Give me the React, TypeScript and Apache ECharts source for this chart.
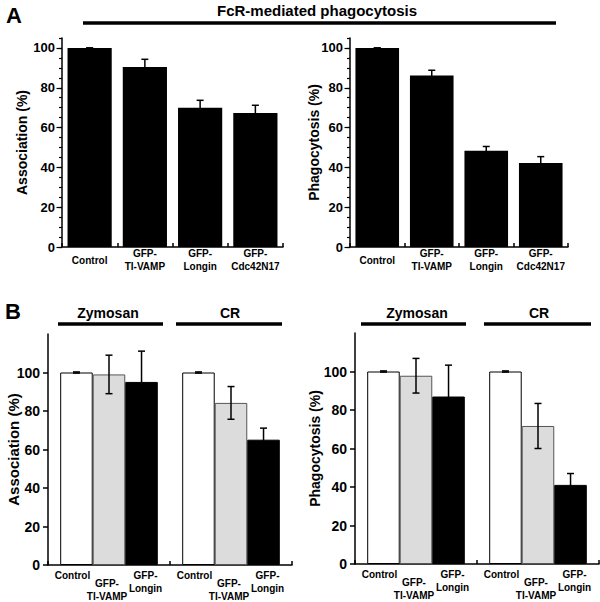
import React, { useEffect, useRef } from "react";
import * as echarts from "echarts";

const FONT = '"Liberation Sans", Arial, Helvetica, sans-serif';

// Panel A
const catsA = ["Control", "GFP-\nTI-VAMP", "GFP-\nLongin", "GFP-\nCdc42N17"];
const assocA = [100, 90.4, 70, 67.3];
const assocAErr = [0, 3.9, 3.7, 3.9];
const phagoA = [100, 86.1, 48.4, 42.2];
const phagoAErr = [0, 2.7, 2.1, 3.2];
const majorTicksA = [0, 20, 40, 60, 80, 100];

// Panel B
const groupsB = ["Zymosan", "CR"];
const seriesB = ["Control", "GFP-\nTI-VAMP", "GFP-\nLongin"];
const assocB = [
  [100, 100],
  [99, 84.2],
  [95.1, 65.1],
];
const assocBErr = [
  [0.3, 0.3],
  [10, 8.5],
  [16, 6],
];
const phagoB = [
  [100, 100],
  [97.8, 71.7],
  [87, 41.1],
];
const phagoBErr = [
  [0.3, 0.3],
  [9, 11.7],
  [16.3, 5.9],
];
const majorTicksB = [0, 20, 40, 60, 80, 100];
const colorsB = ["#ffffff", "#dcdcdc", "#000000"];
const borderB = ["#000000", "#555555", "#000000"];

const errRender = (nSeries: number, k: number) => (params: any, api: any) => {
  const x = api.value(0);
  const v = api.value(1);
  const e = api.value(2);
  const band = api.size([1, 0])[0];
  const bw = (band * 0.8) / nSeries;
  const off = (k - (nSeries - 1) / 2) * bw;
  const top = api.coord([x, v + e]);
  const bot = api.coord([x, v - e]);
  const cx = top[0] + off;
  const w = 3.5;
  const st = { stroke: "#000", lineWidth: 1.5 };
  return {
    type: "group",
    children: [
      { type: "line", shape: { x1: cx, y1: top[1], x2: cx, y2: bot[1] }, style: st },
      { type: "line", shape: { x1: cx - w, y1: top[1], x2: cx + w, y2: top[1] }, style: st },
      { type: "line", shape: { x1: cx - w, y1: bot[1], x2: cx + w, y2: bot[1] }, style: st },
    ],
  };
};

function buildOption() {
  const grids = [
    { left: 62, top: 38, width: 221, height: 209 },
    { left: 350, top: 38, width: 218, height: 209 },
    { left: 48, top: 334, width: 244, height: 231 },
    { left: 355, top: 333, width: 244, height: 231 },
  ];
  const lineStyle = { color: "#000", width: 1.5 };
  const xAxisA = (gi: number) => ({
    type: "category",
    gridIndex: gi,
    data: catsA,
    axisLine: { lineStyle },
    axisTick: { show: true, inside: true, length: 4, lineStyle },
    axisLabel: {
      interval: 0,
      fontFamily: FONT,
      fontSize: 10,
      fontWeight: "bold",
      color: "#000",
      margin: 13,
      verticalAlign: "middle",
      lineHeight: 12.5,
    },
  });
  const xAxisB = (gi: number) => ({
    type: "category",
    gridIndex: gi,
    data: groupsB,
    axisLine: { lineStyle },
    axisTick: { show: true, inside: true, length: 4, lineStyle },
    axisLabel: { show: false },
  });
  const nameStyle = (size: number) => ({
    fontFamily: FONT,
    fontSize: size,
    fontWeight: "bold",
    color: "#000",
  });
  const yMainA = (gi: number, name: string, gap: number) => ({
    type: "value",
    gridIndex: gi,
    position: "left",
    min: 0,
    max: 105,
    interval: 5,
    name,
    nameLocation: "middle",
    nameGap: gap,
    nameMoveOverlap: false,
    nameTextStyle: nameStyle(14),
    axisLine: { show: true, lineStyle },
    axisTick: { show: true, length: 3, lineStyle: { color: "#000", width: 1.2 } },
    axisLabel: {
      formatter: (v: number) => (majorTicksA.includes(v) ? String(v) : ""),
      fontFamily: FONT,
      fontSize: 13,
      fontWeight: "bold",
      color: "#000",
      margin: 7,
    },
    splitLine: { show: false },
  });
  const yMajorA = (gi: number) => ({
    type: "value",
    gridIndex: gi,
    position: "left",
    min: 0,
    max: 105,
    interval: 20,
    axisLine: { show: false },
    axisTick: { show: true, length: 5.5, customValues: majorTicksA, lineStyle: { color: "#000", width: 1.2 } },
    axisLabel: { show: false },
    splitLine: { show: false },
  });
  const yB = (gi: number, name: string, gap: number, nsize: number) => ({
    type: "value",
    gridIndex: gi,
    position: "left",
    min: 0,
    max: 120,
    interval: 20,
    name,
    nameLocation: "middle",
    nameGap: gap,
    nameMoveOverlap: false,
    nameTextStyle: nameStyle(nsize),
    axisLine: { show: true, lineStyle },
    axisTick: { show: true, length: 5, customValues: majorTicksB, lineStyle: { color: "#000", width: 1.5 } },
    axisLabel: {
      formatter: (v: number) => (majorTicksB.includes(v) ? String(v) : ""),
      fontFamily: FONT,
      fontSize: 14,
      fontWeight: "bold",
      color: "#000",
      margin: 8,
    },
    splitLine: { show: false },
  });

  const series: any[] = [];
  const addA = (ai: number, vals: number[], errs: number[]) => {
    series.push({
      type: "bar",
      xAxisIndex: ai,
      yAxisIndex: ai * 2,
      data: vals,
      barCategoryGap: "20%",
      itemStyle: { color: "#000" },
    });
    series.push({
      type: "custom",
      xAxisIndex: ai,
      yAxisIndex: ai * 2,
      data: vals.map((v, i) => [i, v, errs[i]]),
      renderItem: errRender(1, 0),
      z: 5,
    });
  };
  addA(0, assocA, assocAErr);
  addA(1, phagoA, phagoAErr);

  const labelOffsets = [
    [-4, 0],
    [-2, 0],
    [4, 0],
  ];
  const labelDist = [4, 12, 4];
  const addB = (xi: number, yi: number, vals: number[][], errs: number[][]) => {
    vals.forEach((arr, k) => {
      series.push({
        type: "bar",
        name: seriesB[k],
        xAxisIndex: xi,
        yAxisIndex: yi,
        data: arr,
        barGap: "0%",
        barCategoryGap: "20%",
        itemStyle: { color: colorsB[k], borderColor: borderB[k], borderWidth: 1 },
        label: {
          show: true,
          position: "bottom",
          distance: labelDist[k],
          offset: labelOffsets[k],
          formatter: () => seriesB[k],
          fontFamily: FONT,
          fontSize: 10,
          fontWeight: "bold",
          color: "#000",
          lineHeight: 13,
          align: "center",
        },
      });
    });
    vals.forEach((arr, k) => {
      series.push({
        type: "custom",
        xAxisIndex: xi,
        yAxisIndex: yi,
        data: arr.map((v, i) => [i, v, errs[k][i]]),
        renderItem: errRender(3, k),
        z: 5,
      });
    });
  };
  addB(2, 4, assocB, assocBErr);
  addB(3, 5, phagoB, phagoBErr);

  const textStyle = (size: number) => ({
    fontFamily: FONT,
    fontSize: size,
    fontWeight: "bold",
    fill: "#000",
  });
  const headLine = (x1: number, x2: number, y: number, w: number) => ({
    type: "line",
    shape: { x1, y1: y, x2, y2: y },
    style: { stroke: "#000", lineWidth: w },
  });
  const centerText = (text: string, x: number, y: number, size: number) => ({
    type: "text",
    x,
    y,
    style: { ...textStyle(size), text, align: "center", verticalAlign: "middle" },
  });

  const graphic = [
    centerText("A", 14, 15, 22),
    centerText("FcR-mediated phagocytosis", 317, 10, 15),
    headLine(83, 556, 23, 3.5),
    centerText("B", 13, 311, 22),
    centerText("Zymosan", 108, 313, 14),
    centerText("CR", 230, 313, 14),
    headLine(58, 163, 324, 3.5),
    headLine(176, 282, 324, 3.5),
    centerText("Zymosan", 417, 313, 14),
    centerText("CR", 539, 313, 14),
    headLine(361, 466, 324, 3.5),
    headLine(484, 591, 324, 3.5),
  ];

  return {
    animation: false,
    backgroundColor: "#fff",
    grid: grids,
    xAxis: [xAxisA(0), xAxisA(1), xAxisB(2), xAxisB(3)],
    yAxis: [
      yMainA(0, "Association (%)", 33),
      yMajorA(0),
      yMainA(1, "Phagocytosis (%)", 29.5),
      yMajorA(1),
      yB(2, "Association (%)", 27.5, 15),
      yB(3, "Phagocytosis (%)", 33, 14),
    ],
    series,
    graphic,
  };
}

export default function App() {
  const ref = useRef<HTMLDivElement>(null);
  useEffect(() => {
    if (!ref.current) return;
    const chart = echarts.init(ref.current, undefined, { renderer: "svg" });
    chart.setOption(buildOption() as any);
    return () => chart.dispose();
  }, []);
  return (
    <div
      ref={ref}
      style={{ position: "absolute", left: 0, top: 0, width: 600, height: 602 }}
    />
  );
}
